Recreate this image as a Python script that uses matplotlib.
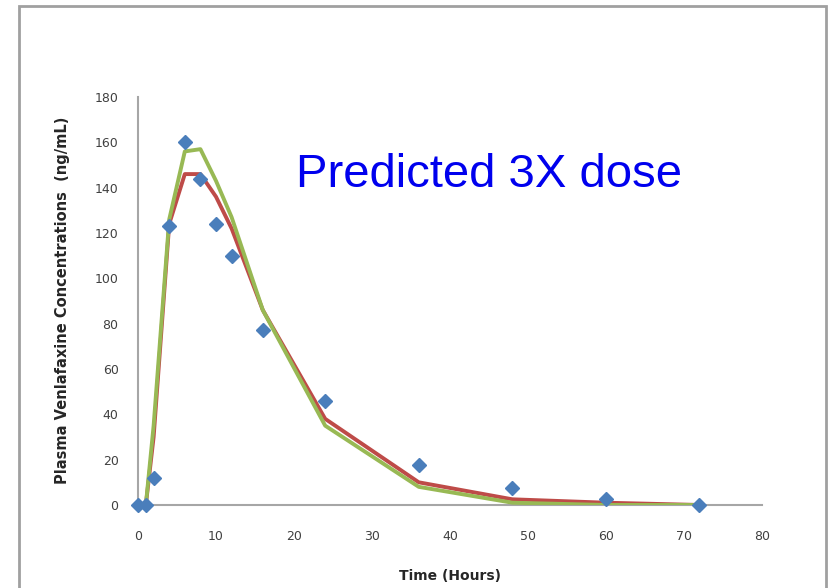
import matplotlib.pyplot as plt
from matplotlib.patches import Rectangle

# observed venlafaxine plasma levels
obs_time = [0, 1, 2, 4, 6, 8, 10, 12, 16, 24, 36, 48, 60, 72]
obs_conc = [0, 0, 12, 123, 160, 144, 124, 110, 77, 46, 17.5, 7.5, 2.5, 0]

# two model predictions at the same time points
model_time = [0, 1, 2, 4, 6, 8, 10, 12, 16, 24, 36, 48, 60, 72]
pred_red = [0, 0, 30, 124, 146, 146, 136, 122, 86, 38, 10, 2.5, 1, 0]
pred_green = [0, 0, 35, 126, 156, 157, 143, 127, 86, 35, 8, 1, 0, 0]

xticks = [0, 10, 20, 30, 40, 50, 60, 70, 80]
yticks = [0, 20, 40, 60, 80, 100, 120, 140, 160, 180]

fig = plt.figure(figsize=(8.29, 5.88), dpi=100)
ax = fig.add_axes([0.1665, 0.1412, 0.7525, 0.6938])

ax.plot(model_time, pred_red, color='#be4b48', lw=2.8, zorder=2)
ax.plot(model_time, pred_green, color='#98b954', lw=2.8, zorder=3)
ax.plot(obs_time, obs_conc, ls='none', marker='D', markersize=7,
        color='#4a7ebb', zorder=4, clip_on=False)

ax.set_xlim(0, 80)
ax.set_ylim(0, 180)
ax.set_xticks(xticks)
ax.set_yticks(yticks)
ax.tick_params(length=0, labelsize=9, colors='#404040', pad=18)
ax.tick_params(axis='y', pad=14)

for s in ['top', 'right']:
    ax.spines[s].set_visible(False)
for s in ['left', 'bottom']:
    ax.spines[s].set_color('#a6a6a6')
    ax.spines[s].set_linewidth(1.5)

ax.set_xlabel('Time (Hours)', fontsize=10, fontweight='bold', color='#262626', labelpad=19)
ax.set_ylabel('Plasma Venlafaxine Concentrations  (ng/mL)', fontsize=10.5,
              fontweight='bold', color='#262626')
ax.yaxis.set_label_coords(-0.109, 0.502)

ax.text(0.5625, 0.809, 'Predicted 3X dose', transform=ax.transAxes,
        fontsize=34, color='#0000ee', family='Liberation Sans', va='center', ha='center')

# outer frame around the chart area
fig.add_artist(Rectangle((19 / 829, -0.05), (826 - 19) / 829, 1.05 - 6 / 588,
                         transform=fig.transFigure, fill=False,
                         edgecolor='#a0a0a0', lw=2))

fig.savefig('out.png', dpi=100)
